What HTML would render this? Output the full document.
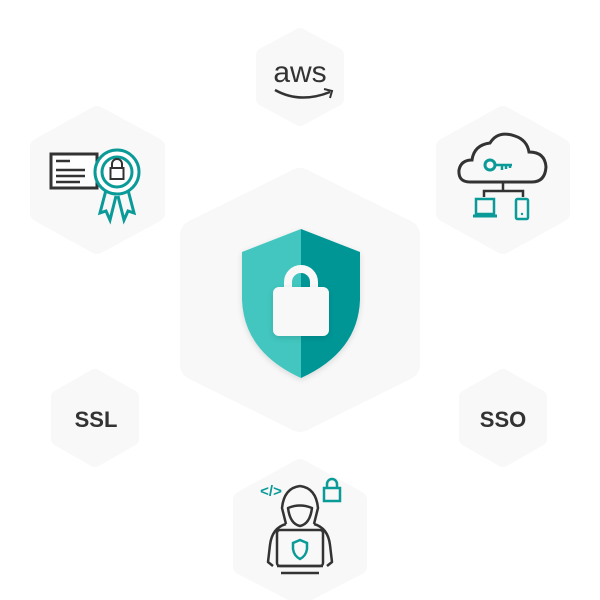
<!DOCTYPE html>
<html><head><style>
html,body{margin:0;padding:0;background:#fff;width:600px;height:600px;overflow:hidden}
svg{display:block}
text{font-family:"Liberation Sans",sans-serif}
</style></head><body>
<svg width="600" height="600" viewBox="0 0 600 600" xmlns="http://www.w3.org/2000/svg">
<defs>
<filter id="sh" x="-20%" y="-20%" width="140%" height="140%"><feDropShadow dx="0" dy="2" stdDeviation="3" flood-color="#000" flood-opacity="0.12"/></filter>
</defs>
<g fill="#f8f8f8" stroke="#f8f8f8" stroke-linejoin="round">
<!-- center -->
<polygon stroke-width="30" points="300,183 405,235 405,365 300,417 195,365 195,235"/>
<!-- aws -->
<polygon stroke-width="14" points="300,35 337,55 337,99 300,119 263,99 263,55"/>
<!-- cert -->
<polygon stroke-width="18" points="97,115 156,147 156,213 97,245 39,213 39,147"/>
<!-- cloud -->
<polygon stroke-width="18" points="503,115 561,147 561,213 503,245 445,213 445,147"/>
<!-- ssl -->
<polygon stroke-width="14" points="95,376 132,397 132,439 95,460 58,439 58,397"/>
<!-- sso -->
<polygon stroke-width="14" points="503,376 540,397 540,439 503,460 466,439 466,397"/>
<!-- hacker -->
<polygon stroke-width="18" points="300,468 358,500 358,566 300,596 242,566 242,500"/>
</g>

<!-- shield -->
<g filter="url(#sh)">
<path d="M301,229 L242,252 L242,300 Q244,352 301,378 Z" fill="#43c6bf"/>
<path d="M301,229 L360,252 L360,300 Q358,352 301,378 Z" fill="#009696"/>
</g>
<path d="M288,288 V282 A13,13 0 0 1 314,282 V288" fill="none" stroke="#f8f8f8" stroke-width="8"/>
<rect x="273" y="287" width="56" height="49" rx="6" fill="#f8f8f8" filter="url(#sh)"/>

<!-- aws -->
<text x="300" y="82" text-anchor="middle" font-size="30" fill="#333" style="letter-spacing:0px">aws</text>
<path d="M275,90 Q300,104 330,92" fill="none" stroke="#333" stroke-width="2.5"/>
<path d="M324,89 L332,91 L330,98" fill="none" stroke="#333" stroke-width="2"/>

<!-- cert -->
<rect x="51" y="154" width="46" height="34" fill="#fff" stroke="#333" stroke-width="3"/>
<g stroke="#333" stroke-width="2.5"><line x1="56" y1="161" x2="70" y2="161"/><line x1="56" y1="170" x2="85" y2="170"/><line x1="56" y1="176" x2="85" y2="176"/><line x1="56" y1="182" x2="80" y2="182"/></g>
<g fill="none" stroke="#0a9a98" stroke-width="3">
<path d="M106,190 L100,213 L106,211 L110,220 L116,196"/>
<path d="M128,190 L134,213 L128,211 L124,220 L118,196"/>
<circle cx="117" cy="172" r="22" fill="#fff"/>
<circle cx="117" cy="172" r="15"/>
</g>
<path d="M112,168 V164 A5,5 0 0 1 122,164 V168" fill="none" stroke="#333" stroke-width="2"/>
<rect x="110.5" y="168" width="13" height="11" fill="none" stroke="#333" stroke-width="2"/>

<!-- cloud -->
<path d="M470,182 Q458,182 459,170 Q461,160 472,160 Q474,145 490,143 Q498,130 515,136 Q527,140 529,152 Q545,152 546,167 Q545,182 532,182 Z" fill="none" stroke="#333" stroke-width="3"/>
<circle cx="490" cy="165" r="5" fill="none" stroke="#0a9a98" stroke-width="3"/>
<path d="M495,165 H512 M502,165 V170 M506,165 V169 M510,165 V168" stroke="#0a9a98" stroke-width="2.5"/>
<path d="M503,183 V191 M484,197 V191 H523 V197" fill="none" stroke="#333" stroke-width="2.5"/>
<rect x="476" y="199" width="18" height="15" fill="none" stroke="#0a9a98" stroke-width="2.5"/>
<line x1="473" y1="216" x2="497" y2="216" stroke="#0a9a98" stroke-width="3"/>
<rect x="516" y="199" width="12" height="20" rx="1.5" fill="none" stroke="#0a9a98" stroke-width="2.5"/>
<circle cx="522" cy="214" r="1.2" fill="#0a9a98"/>

<!-- ssl / sso -->
<text x="96" y="427" text-anchor="middle" font-size="22" font-weight="bold" fill="#333">SSL</text>
<text x="503" y="427" text-anchor="middle" font-size="22" font-weight="bold" fill="#333">SSO</text>

<!-- hacker -->
<text x="271" y="496" text-anchor="middle" font-size="15" font-weight="bold" fill="#0a9a98">&lt;/&gt;</text>
<path d="M327,488 V484 A5,5 0 0 1 337,484 V488" fill="none" stroke="#0a9a98" stroke-width="2.5"/>
<rect x="324" y="488" width="16" height="13" fill="none" stroke="#0a9a98" stroke-width="2.5"/>
<g fill="none" stroke="#333" stroke-width="2.5" stroke-linejoin="round">
<path d="M300,486 Q284,488 282,508 L286,524 M300,486 Q316,488 318,508 L314,524"/>
<path d="M288,508 Q300,503 312,508 Q310,524 300,526 Q290,524 288,508 Z"/>
<path d="M286,524 Q272,528 270,545 L268,562 L273,566 M314,524 Q328,528 330,545 L332,562 L327,566"/>
<rect x="277" y="530" width="46" height="36" rx="3"/>
<line x1="277" y1="566" x2="323" y2="566"/>
<line x1="281" y1="573" x2="319" y2="573"/>
</g>
<path d="M300,540 L293,543 V549 Q294,556 300,559 Q306,556 307,549 V543 Z" fill="none" stroke="#0a9a98" stroke-width="2.5"/>
</svg>
</body></html>
